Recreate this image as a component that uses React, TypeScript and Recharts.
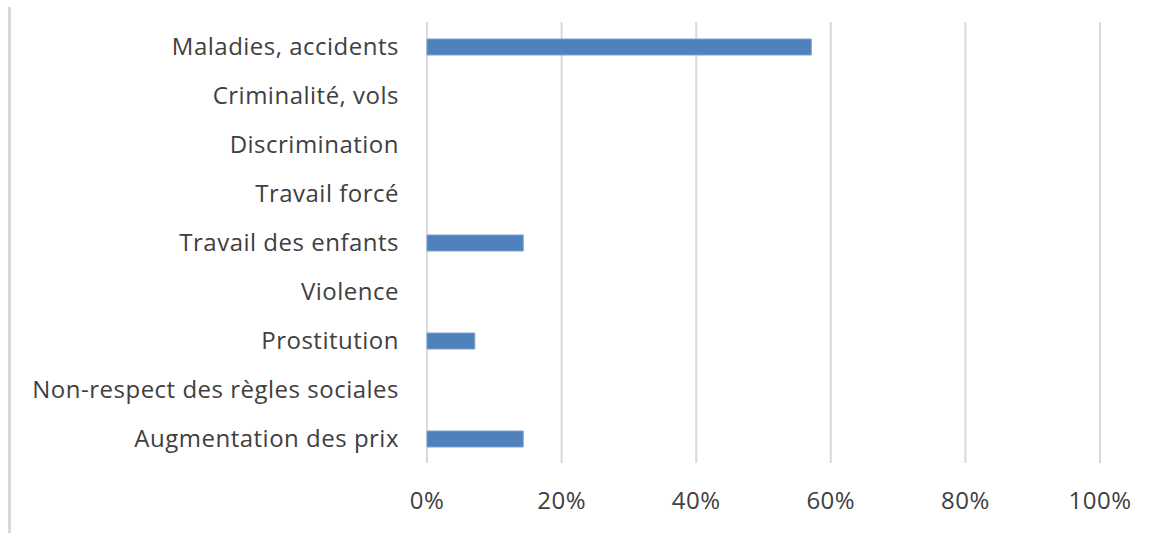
import React from "react";
import { BarChart, Bar, XAxis, YAxis, CartesianGrid } from "recharts";

const categories = [
  "Maladies, accidents",
  "Criminalité, vols",
  "Discrimination",
  "Travail forcé",
  "Travail des enfants",
  "Violence",
  "Prostitution",
  "Non-respect des règles sociales",
  "Augmentation des prix",
];
const values = [57.1, 0, 0, 0, 14.3, 0, 7.1, 0, 14.3];
const xTicks = [0, 20, 40, 60, 80, 100];

const data = categories.map((name, i) => ({ name, value: values[i] }));

const FONT = "'Open Sans', sans-serif";
const TEXT = "#404040";
const tickStyle = { fontSize: 24, fill: TEXT, fontFamily: FONT, letterSpacing: 0.5 };

export default function App() {
  return (
    <div style={{ position: "absolute", left: 0, top: 0, width: 1161, height: 533, background: "#fff", overflow: "hidden" }}>
      <div style={{ position: "absolute", left: 8, top: 7, width: 3, height: 526, background: "#d9d9d9" }} />
      <BarChart
        width={1161}
        height={533}
        data={data}
        layout="vertical"
        margin={{ top: 22, right: 61, bottom: 30, left: 0 }}
      >
        <CartesianGrid horizontal={false} stroke="#d9d9d9" strokeWidth={2} />
        <XAxis
          type="number"
          domain={[0, 100]}
          ticks={xTicks}
          tickFormatter={(v) => `${v}%`}
          axisLine={false}
          tickLine={false}
          tickSize={0}
          tickMargin={29}
          height={40}
          tick={tickStyle}
        />
        <YAxis
          type="category"
          dataKey="name"
          width={427}
          axisLine={false}
          tickLine={false}
          tickSize={0}
          tickMargin={28}
          interval={0}
          tick={tickStyle}
        />
        <Bar dataKey="value" fill="#4f81bd" stroke="#7da2d1" strokeWidth={1} barSize={16} isAnimationActive={false} />
      </BarChart>
    </div>
  );
}
